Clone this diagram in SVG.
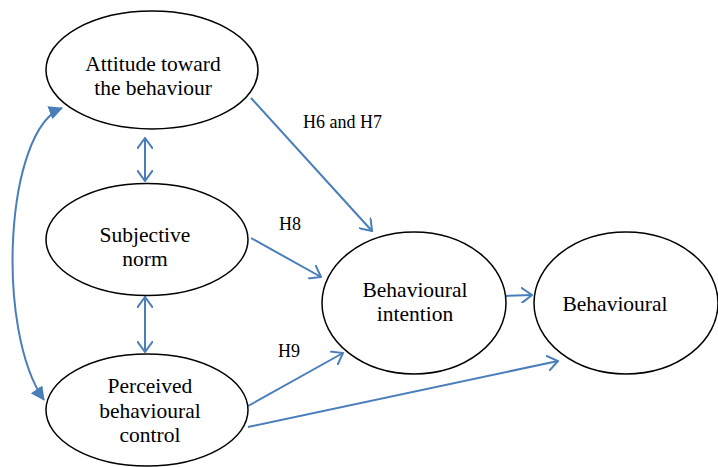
<svg xmlns="http://www.w3.org/2000/svg" width="718" height="467" viewBox="0 0 718 467">
<style>
.node ellipse{fill:#fff;stroke:#000;stroke-width:1.5}
.node text{font-size:21.5px;fill:#000;text-anchor:middle}
.lbl{font-size:18px;fill:#000}
.conn path{fill:none;stroke:#4a7ebb;stroke-width:2}
</style>
<defs>
<marker id="open" viewBox="0 0 12 16" refX="11" refY="8" markerWidth="12" markerHeight="16" markerUnits="userSpaceOnUse" orient="auto-start-reverse">
<path d="M0,0 L11,8 L0,16" fill="none" stroke="#4a7ebb" stroke-width="2"/>
</marker>
<marker id="solid" viewBox="0 0 14 14" refX="13" refY="7" markerWidth="14" markerHeight="14" markerUnits="userSpaceOnUse" orient="auto-start-reverse">
<path d="M0,0 L14,7 L0,14 Z" fill="#4a7ebb"/>
</marker>
</defs>
<g class="conn">
<path d="M251,98 L372,231" marker-end="url(#open)"/>
<path d="M251,238 L321,277" marker-end="url(#open)"/>
<path d="M248,406 L343,353" marker-end="url(#open)"/>
<path d="M248,427 L558,361" marker-end="url(#open)"/>
<path d="M503,296 L532,295" marker-end="url(#open)"/>
<path d="M145,138 L145,181" marker-start="url(#open)" marker-end="url(#open)"/>
<path d="M145,297 L145,352" marker-start="url(#open)" marker-end="url(#open)"/>
<path d="M62,108 C5,130 -5,330 44,400" marker-start="url(#solid)" marker-end="url(#solid)"/>
</g>
<g font-family="Liberation Serif, Times New Roman, serif">
<g id="attitude" class="node">
<ellipse cx="152" cy="70" rx="106" ry="59"/>
<text x="153" y="71">Attitude toward</text>
<text x="153" y="95">the behaviour</text>
</g>
<g id="subjective" class="node">
<ellipse cx="147" cy="239.5" rx="101" ry="56"/>
<text x="145" y="242">Subjective</text>
<text x="145" y="266">norm</text>
</g>
<g id="perceived" class="node">
<ellipse cx="147" cy="410" rx="101" ry="56"/>
<text x="150" y="393">Perceived</text>
<text x="150" y="418">behavioural</text>
<text x="150" y="442">control</text>
</g>
<g id="intention" class="node">
<ellipse cx="414" cy="303" rx="92" ry="71"/>
<text x="415" y="297">Behavioural</text>
<text x="415" y="321">intention</text>
</g>
<g id="behavioural" class="node">
<ellipse cx="626" cy="303" rx="92" ry="71"/>
<text x="615" y="311">Behavioural</text>
</g>
<g id="labels">
<text class="lbl" x="303" y="128">H6 and H7</text>
<text class="lbl" x="279" y="230">H8</text>
<text class="lbl" x="278" y="357">H9</text>
</g>
</g>
</svg>
